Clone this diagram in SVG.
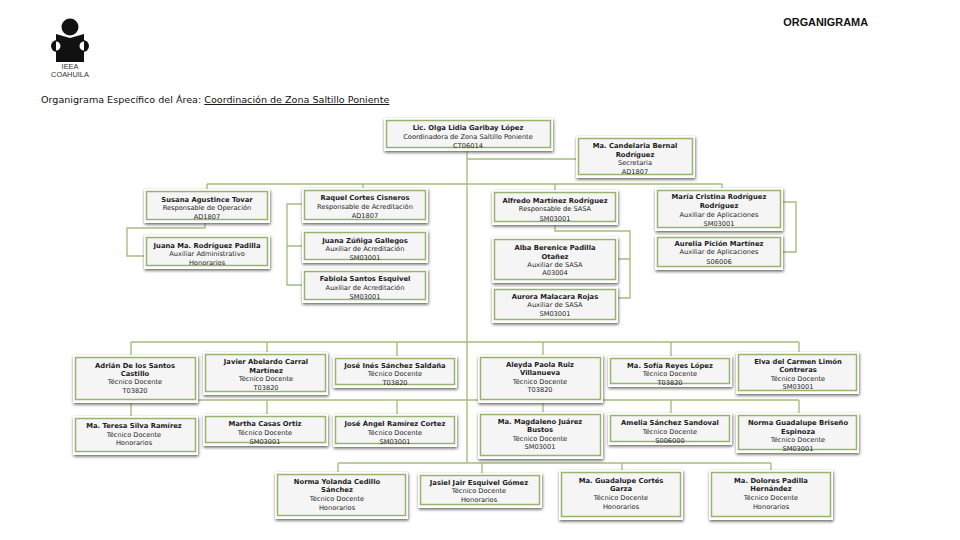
<svg xmlns="http://www.w3.org/2000/svg" width="960" height="540" viewBox="0 0 960 540">
<defs>
<filter id="sh" x="-10%" y="-15%" width="120%" height="130%"><feDropShadow dx="0.5" dy="1.5" stdDeviation="1.4" flood-color="#444" flood-opacity="0.85"/></filter>
</defs>
<style>
text{font-family:"DejaVu Sans",Verdana,sans-serif;fill:#1c1c1c;text-anchor:middle}
.n{font-size:6.8px;font-weight:bold}
.r{font-size:6.65px}
.o{fill:#fff;filter:url(#sh)}
.i{fill:#f5f5f5;stroke:#97b46e;stroke-width:1.5}
.c{fill:none;stroke:#a3bf7c;stroke-width:1.4}
</style>
<rect width="960" height="540" fill="#fff"/>
<g id="logo" fill="#111">
<circle cx="70" cy="27" r="8.5"/>
<path d="M56 34L70 38L84 34V62H56Z"/>
<circle cx="57" cy="46" r="6"/><circle cx="83" cy="46" r="6"/>
<path d="M56 41.500A4.500 4.500 0 0 1 56 50.500ZM84 41.500A4.500 4.500 0 0 0 84 50.500Z" fill="#fff"/>
<text x="70" y="69" style="font-size:7.400px;font-family:'Liberation Sans',sans-serif;fill:#333">IEEA</text>
<text x="70" y="77" style="font-size:7.400px;font-family:'Liberation Sans',sans-serif;fill:#333">COAHUILA</text>
</g>
<text x="868" y="26" style="font-family:'Liberation Sans',Arial,sans-serif;font-size:10.900px;font-weight:bold;text-anchor:end;fill:#111">ORGANIGRAMA</text>
<text x="41" y="103" style="font-size:9.580px;text-anchor:start;fill:#111">Organigrama Específico del Área: <tspan text-decoration="underline">Coordinación de Zona Saltillo Poniente</tspan></text>
<g id="connectors" class="c">
<path d="M467 151V463M467 159H576M207 184H722M207 184V189M363 184V188M555 184V190M722 184V188"/>
<path d="M205 223V228H127V256H144M302 204H287V285H302M287 246H302"/>
<path d="M555 225V231H630V298H618M630 259H618M783 202H796V252H783"/>
<path d="M131 342H799M131 342V355M267 342V352M397 342V356M543 342V355M671 342V356M799 342V352"/>
<path d="M131 400H799M131 400V416M267 400V414M397 400V414M543 400V412M671 400V413M799 400V413"/>
<path d="M338 463H771M338 463V472M482 463V473M622 463V470M771 463V470"/>
</g>
<g id="n1"><rect class="o" x="384" y="118" width="169" height="33"/><rect class="i" x="386.500" y="120.500" width="164" height="27"/><text class="n" x="468" y="130">Lic. Olga Lidia Garibay López</text><text class="r" x="468" y="139">Coordinadora de Zona Saltillo Poniente</text><text class="r" x="468" y="148">CT06014</text></g>
<g id="n2"><rect class="o" x="576" y="136" width="119" height="42"/><rect class="i" x="578.500" y="138.500" width="114" height="36"/><text class="n" x="635" y="148">Ma. Candelaria  Bernal</text><text class="n" x="635" y="157">Rodríguez</text><text class="r" x="635" y="165">Secretaria</text><text class="r" x="635" y="174">AD1807</text></g>
<g id="n3"><rect class="o" x="144" y="189" width="126" height="34"/><rect class="i" x="146.500" y="191.500" width="121" height="28"/><text class="n" x="207" y="202">Susana Agustince Tovar</text><text class="r" x="207" y="210">Responsable de Operación</text><text class="r" x="207" y="219">AD1807</text></g>
<g id="n4"><rect class="o" x="302" y="188" width="126" height="35"/><rect class="i" x="304.500" y="190.500" width="121" height="29"/><text class="n" x="365" y="200">Raquel Cortes Cisneros</text><text class="r" x="365" y="209">Responsable de Acreditación</text><text class="r" x="365" y="218">AD1807</text></g>
<g id="n5"><rect class="o" x="492" y="190" width="126" height="35"/><rect class="i" x="494.500" y="192.500" width="121" height="29"/><text class="n" x="555" y="203">Alfredo Martínez Rodríguez</text><text class="r" x="555" y="211">Responsable de SASA</text><text class="r" x="555" y="221">SM03001</text></g>
<g id="n6"><rect class="o" x="655" y="188" width="128" height="43"/><rect class="i" x="657.500" y="190.500" width="123" height="37"/><text class="n" x="719" y="199">María Cristina Rodríguez</text><text class="n" x="719" y="208">Rodríguez</text><text class="r" x="719" y="217">Auxiliar  de Aplicaciones</text><text class="r" x="719" y="226">SM03001</text></g>
<g id="n7"><rect class="o" x="144" y="235" width="126" height="34"/><rect class="i" x="146.500" y="237.500" width="121" height="28"/><text class="n" x="207" y="248">Juana Ma. Rodríguez Padilla</text><text class="r" x="207" y="256">Auxiliar  Administrativo</text><text class="r" x="207" y="265">Honorarios</text></g>
<g id="n8"><rect class="o" x="302" y="230" width="126" height="33"/><rect class="i" x="304.500" y="232.500" width="121" height="27"/><text class="n" x="365" y="243">Juana Zúñiga Gallegos</text><text class="r" x="365" y="251">Auxiliar de Acreditación</text><text class="r" x="365" y="260">SM03001</text></g>
<g id="n9"><rect class="o" x="302" y="269" width="126" height="34"/><rect class="i" x="304.500" y="271.500" width="121" height="28"/><text class="n" x="365" y="281">Fabiola Santos Esquivel</text><text class="r" x="365" y="290">Auxiliar de Acreditación</text><text class="r" x="365" y="299">SM03001</text></g>
<g id="n10"><rect class="o" x="492" y="237" width="126" height="46"/><rect class="i" x="494.500" y="239.500" width="121" height="40"/><text class="n" x="555" y="250">Alba Berenice Padilla</text><text class="n" x="555" y="259">Otañez</text><text class="r" x="555" y="267">Auxiliar  de SASA</text><text class="r" x="555" y="275">A03004</text></g>
<g id="n11"><rect class="o" x="492" y="287" width="126" height="36"/><rect class="i" x="494.500" y="289.500" width="121" height="30"/><text class="n" x="555" y="299">Aurora Malacara Rojas</text><text class="r" x="555" y="307">Auxiliar  de SASA</text><text class="r" x="555" y="316">SM03001</text></g>
<g id="n12"><rect class="o" x="655" y="235" width="128" height="35"/><rect class="i" x="657.500" y="237.500" width="123" height="29"/><text class="n" x="719" y="246">Aurelia Pición Martínez</text><text class="r" x="719" y="254">Auxiliar  de Aplicaciones</text><text class="r" x="719" y="264">S06006</text></g>
<g id="n13"><rect class="o" x="73" y="355" width="125" height="48"/><rect class="i" x="75.500" y="357.500" width="120" height="42"/><text class="n" x="135" y="368">Adrián De los Santos</text><text class="n" x="135" y="376">Castillo</text><text class="r" x="135" y="384">Técnico Docente</text><text class="r" x="135" y="393">T03820</text></g>
<g id="n14"><rect class="o" x="203" y="352" width="125" height="43"/><rect class="i" x="205.500" y="354.500" width="120" height="37"/><text class="n" x="266" y="364">Javier Abelardo Carral</text><text class="n" x="266" y="373">Martínez</text><text class="r" x="266" y="381">Técnico Docente</text><text class="r" x="266" y="390">T03820</text></g>
<g id="n15"><rect class="o" x="333" y="356" width="124" height="32"/><rect class="i" x="335.500" y="358.500" width="119" height="26"/><text class="n" x="395" y="368">José Inés Sánchez Saldaña</text><text class="r" x="395" y="376">Técnico Docente</text><text class="r" x="395" y="385">T03820</text></g>
<g id="n16"><rect class="o" x="478" y="355" width="125" height="48"/><rect class="i" x="480.500" y="357.500" width="120" height="42"/><text class="n" x="540" y="367">Aleyda Paola Ruiz</text><text class="n" x="540" y="375">Villanueva</text><text class="r" x="540" y="384">Técnico Docente</text><text class="r" x="540" y="392">T03820</text></g>
<g id="n17"><rect class="o" x="608" y="356" width="124" height="31"/><rect class="i" x="610.500" y="358.500" width="119" height="25"/><text class="n" x="670" y="368">Ma. Sofía Reyes López</text><text class="r" x="670" y="376">Técnico Docente</text><text class="r" x="670" y="385">T03820</text></g>
<g id="n18"><rect class="o" x="736" y="352" width="123" height="42"/><rect class="i" x="738.500" y="354.500" width="118" height="36"/><text class="n" x="798" y="364">Elva del Carmen Limón</text><text class="n" x="798" y="372">Contreras</text><text class="r" x="798" y="381">Técnico Docente</text><text class="r" x="798" y="389">SM03001</text></g>
<g id="n19"><rect class="o" x="73" y="416" width="125" height="39"/><rect class="i" x="75.500" y="418.500" width="120" height="33"/><text class="n" x="134" y="428">Ma. Teresa Silva Ramírez</text><text class="r" x="134" y="437">Técnico Docente</text><text class="r" x="134" y="445">Honorarios</text></g>
<g id="n20"><rect class="o" x="203" y="414" width="125" height="32"/><rect class="i" x="205.500" y="416.500" width="120" height="26"/><text class="n" x="265" y="426">Martha Casas Ortiz</text><text class="r" x="265" y="435">Técnico Docente</text><text class="r" x="265" y="444">SM03001</text></g>
<g id="n21"><rect class="o" x="333" y="414" width="124" height="33"/><rect class="i" x="335.500" y="416.500" width="119" height="27"/><text class="n" x="395" y="426">José Ángel Ramírez Cortez</text><text class="r" x="395" y="435">Técnico Docente</text><text class="r" x="395" y="444">SM03001</text></g>
<g id="n22"><rect class="o" x="478" y="412" width="125" height="47"/><rect class="i" x="480.500" y="414.500" width="120" height="41"/><text class="n" x="540" y="424">Ma. Magdaleno Juárez</text><text class="n" x="540" y="432">Bustos</text><text class="r" x="540" y="441">Técnico Docente</text><text class="r" x="540" y="449">SM03001</text></g>
<g id="n23"><rect class="o" x="608" y="413" width="124" height="32"/><rect class="i" x="610.500" y="415.500" width="119" height="26"/><text class="n" x="670" y="425">Amelia Sánchez Sandoval</text><text class="r" x="670" y="434">Técnico Docente</text><text class="r" x="670" y="443">S006000</text></g>
<g id="n24"><rect class="o" x="736" y="413" width="123" height="40"/><rect class="i" x="738.500" y="415.500" width="118" height="34"/><text class="n" x="798" y="425">Norma Guadalupe Briseño</text><text class="n" x="798" y="434">Espinoza</text><text class="r" x="798" y="442">Técnico Docente</text><text class="r" x="798" y="451">SM03001</text></g>
<g id="n25"><rect class="o" x="275" y="472" width="133" height="47"/><rect class="i" x="277.500" y="474.500" width="128" height="41"/><text class="n" x="337" y="484">Norma Yolanda Cedillo</text><text class="n" x="337" y="492">Sánchez</text><text class="r" x="337" y="501">Técnico Docente</text><text class="r" x="337" y="510">Honorarios</text></g>
<g id="n26"><rect class="o" x="418" y="473" width="124" height="35"/><rect class="i" x="420.500" y="475.500" width="119" height="29"/><text class="n" x="479" y="485">Jasiel Jair Esquivel Gómez</text><text class="r" x="479" y="493">Técnico Docente</text><text class="r" x="479" y="502">Honorarios</text></g>
<g id="n27"><rect class="o" x="559" y="470" width="124" height="50"/><rect class="i" x="561.500" y="472.500" width="119" height="44"/><text class="n" x="621" y="483">Ma. Guadalupe Cortés</text><text class="n" x="621" y="491">Garza</text><text class="r" x="621" y="500">Técnico Docente</text><text class="r" x="621" y="509">Honorarios</text></g>
<g id="n28"><rect class="o" x="709" y="470" width="124" height="50"/><rect class="i" x="711.500" y="472.500" width="119" height="44"/><text class="n" x="771" y="483">Ma. Dolores Padilla</text><text class="n" x="771" y="491">Hernández</text><text class="r" x="771" y="500">Técnico Docente</text><text class="r" x="771" y="509">Honorarios</text></g>
</svg>
